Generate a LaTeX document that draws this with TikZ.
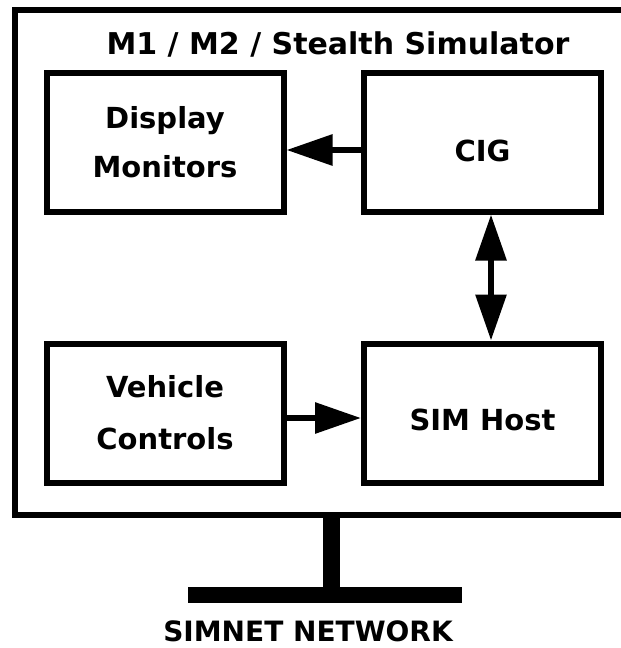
\documentclass[tikz,border=0pt]{standalone}
\usepackage{fontspec}
\setmainfont{DejaVu Sans}
\usetikzlibrary{arrows.meta, positioning}
\tikzstyle{block} = [draw=black, line width=6pt, minimum width=237pt, minimum height=139pt,
                     inner sep=0, align=center, font=\bfseries\fontsize{29}{52}\selectfont]
\tikzstyle{link} = [line width=6pt, -{Triangle[length=46pt, width=30pt]}]
\tikzstyle{duplex} = [line width=6pt, {Triangle[length=46pt, width=30pt]}-{Triangle[length=46pt, width=30pt]}]
\tikzstyle{bus} = [fill=black, inner sep=0, minimum width=274pt, minimum height=16pt]

\begin{document}
\begin{tikzpicture}[x=1pt, y=-1pt]
	\clip (0,0) rectangle (621,648);

	% simulator frame
	\draw [line width=6pt] (15,10) rectangle (660,515);
	\node (Title) at (338,44) {\bfseries\fontsize{30}{36}\selectfont M1 / M2 / Stealth Simulator};

	% top row
	\node (Display) [block] at (165,142) {\raisebox{-3pt}{Display}\\Monitors};
	\node (CIG) [block] at (482.5,142) {\raisebox{-19.5pt}[0pt][0pt]{CIG}};
	\draw [link] ([yshift=-8pt]CIG.west) -- ([yshift=-8pt]Display.east);

	% bottom row
	\node (Vehicle) [block] at (165,413) {Vehicle\\Controls};
	\node (SIM) [block] at (482.5,413) {\raisebox{-17.5pt}[0pt][0pt]{SIM Host}};
	\draw [link] ([yshift=-5pt]Vehicle.east) -- ([yshift=-5pt]SIM.west);

	\draw [duplex] ([xshift=8.5pt]CIG.south) -- ([xshift=8.5pt]SIM.north);

	% network
	\coordinate (FrameBottom) at (331,515);
	\node (Network) [bus] at (325,595) {};
	\draw [line width=17pt] (FrameBottom) -- (FrameBottom |- Network.north);
	\node (NetLabel) at (308,631.5) {\bfseries\fontsize{28}{34}\selectfont SIMNET NETWORK};
\end{tikzpicture}
\end{document}
